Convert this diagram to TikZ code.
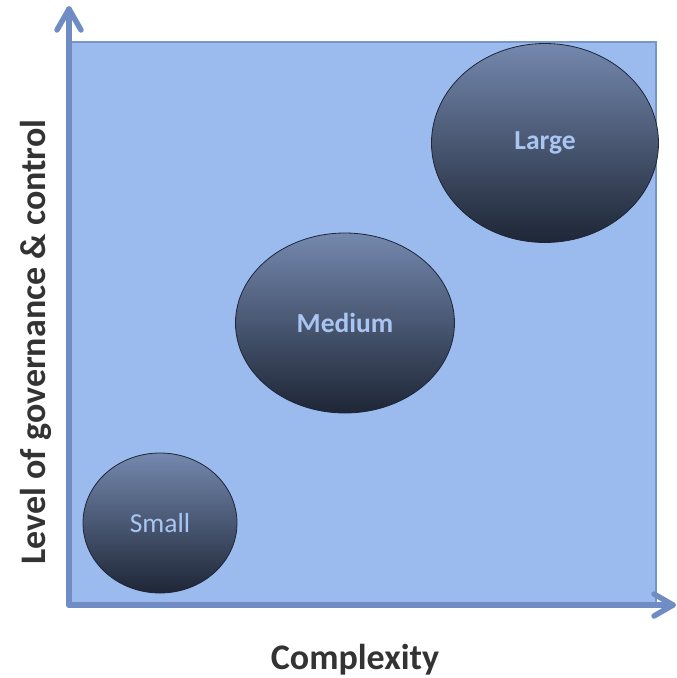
\documentclass[tikz,border=0pt]{standalone}
\usepackage{fontspec}
\setmainfont{Carlito}
\usetikzlibrary{shapes.geometric}
\definecolor{panelfill}{HTML}{9BBBEF}
\definecolor{paneledge}{HTML}{7895C8}
\definecolor{axisblue}{HTML}{6F8DC4}
\definecolor{bubbletop}{HTML}{7488AE}
\definecolor{bubblebot}{HTML}{1E2636}
\definecolor{bubbletext}{HTML}{A9C5F2}
\definecolor{labelgray}{HTML}{333333}

\begin{document}
\begin{tikzpicture}[x=1pt,y=-1pt]
                \tikzstyle{bubble} = [ellipse, inner sep=0pt, draw=bubblebot, thick, top color=bubbletop, bottom color=bubblebot, middle color=bubbletop!50!bubblebot, text=bubbletext, font=\fontsize{27.5}{30}\selectfont\bfseries]
                \tikzstyle{axis} = [line width=5.5pt, axisblue, line cap=round, line join=round]
                \tikzstyle{axislabel} = [text=labelgray, font=\fontsize{36}{40}\selectfont\bfseries]
                \useasboundingbox (0,0) rectangle (677,678);
                \fill [panelfill, draw=paneledge, line width=1.5pt] (69,42) rectangle (656,605);

                \coordinate (origin) at (69,605);
                \coordinate (ytip) at (69,9);
                \coordinate (xtip) at (673,605);
                \draw [axis] (origin) -- (ytip);
                \draw [axis] (origin) -- (xtip);
                % chevron heads
                \draw [axis] (ytip) ++(-12,21) -- (ytip) -- ++(12,21);
                \draw [axis] (xtip) ++(-19,-11) -- (xtip) -- ++(-19,11);

                \node (small) [bubble, minimum width=154pt, minimum height=140pt, font=\fontsize{27.5}{30}\selectfont] at (160,523) {Small};
                \node (medium) [bubble, minimum width=219pt, minimum height=180pt] at (345,323) {Medium};
                \node (large) [bubble, minimum width=227pt, minimum height=199pt] at (545,143) {Large};

                \node (complexity) [axislabel] at (355,660) {Complexity};
                \node (governance) [axislabel, rotate=90] at (36,342) {Level of governance \& control};
            \end{tikzpicture}
\end{document}
